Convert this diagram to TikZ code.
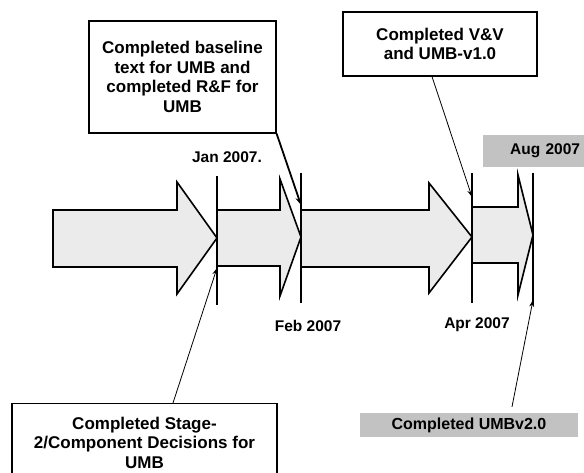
\documentclass[tikz,border=0pt]{standalone}
\usepackage{fontspec}
\setmainfont{Liberation Sans}
\usepackage{tikz}
\usetikzlibrary{arrows.meta,positioning,calc}

\begin{document}
\begin{tikzpicture}[x=1pt, y=-1pt, every node/.style={font=\fontsize{17}{19.5}\selectfont\bfseries}, box/.style={draw, line width=1.2pt, align=center, inner sep=2pt}, phase/.style={draw, line width=1.6pt, fill=black!8, line join=miter}, milestone/.style={line width=1.5pt}, datelbl/.style={font=\fontsize{15.5}{18}\selectfont\bfseries}, tag/.style={fill=black!24, inner sep=4pt}]
\useasboundingbox (0,0) rectangle (584,473);
% phases
\draw[phase] (53,210) -- (177,210) -- (177,182) -- (217,238) -- (177,294) -- (177,267) -- (53,267) -- cycle;
\draw[phase] (217,210) -- (280,210) -- (280,179) -- (301,237) -- (280,296) -- (280,266) -- (217,266) -- cycle;
\draw[phase] (301,210) -- (429,210) -- (429,183) -- (472,237) -- (429,293) -- (429,267) -- (301,267) -- cycle;
\draw[phase] (472,207) -- (518,207) -- (518,175) -- (533,235) -- (518,295) -- (518,263) -- (472,263) -- cycle;
% milestone lines
\coordinate (jantop) at (217,176); \coordinate (janbot) at (217,305); \coordinate (janhit) at (217,268);
\coordinate (febtop) at (301,173); \coordinate (febbot) at (301,303); \coordinate (febhit) at (301,205);
\coordinate (aprtop) at (472,173); \coordinate (aprbot) at (472,303); \coordinate (aprhit) at (472,197);
\coordinate (augtop) at (533,173); \coordinate (augbot) at (533,305); \coordinate (aughit) at (533,300);
\draw[milestone] (jantop) -- (janbot);
\draw[milestone] (febtop) -- (febbot);
\draw[milestone] (aprtop) -- (aprbot);
\draw[milestone] (augtop) -- (augbot);
\node[datelbl] (jan) at (227,157) {Jan 2007.};
\node[datelbl] (feb) at (308,326) {Feb 2007};
\node[datelbl] (apr) at (477,325) {Apr 2007};
\node[datelbl, tag, text width=93pt, align=right, minimum height=32pt] (aug) at (533.5,151) {Aug 2007};
% events
\node[box, minimum width=187pt, minimum height=112pt] (baseline) at (182.5,77) {Completed baseline\\text for UMB and\\completed R\&F for\\UMB};
\node[box, minimum width=194pt, minimum height=64pt] (vv) at (440,44) {Completed V\&V\\and UMB-v1.0};
\node[box, anchor=north, minimum width=265pt, minimum height=78pt] (stage) at (144.5,403) {Completed Stage-\\2/Component Decisions for\\UMB};
\node[tag, minimum width=218pt, minimum height=24pt, inner sep=0pt, font=\fontsize{16}{18}\selectfont\bfseries] (umbtwo) at (469,425) {Completed UMBv2.0};
\draw[-{Stealth[length=8pt,width=6pt]}, line width=1.8pt] (baseline.south east) -- (febhit);
\draw[-{Stealth[length=7pt,width=5pt]}, line width=0.8pt] ([xshift=-8pt]vv.south) -- (aprhit);
\draw[-{Stealth[length=7pt,width=5pt]}, line width=0.8pt] ([xshift=28.5pt]stage.north) -- (janhit);
\draw[-{Stealth[length=7pt,width=5pt]}, line width=0.8pt] ([xshift=43pt,yshift=6pt]umbtwo.north) -- (aughit);
\end{tikzpicture}
\end{document}
